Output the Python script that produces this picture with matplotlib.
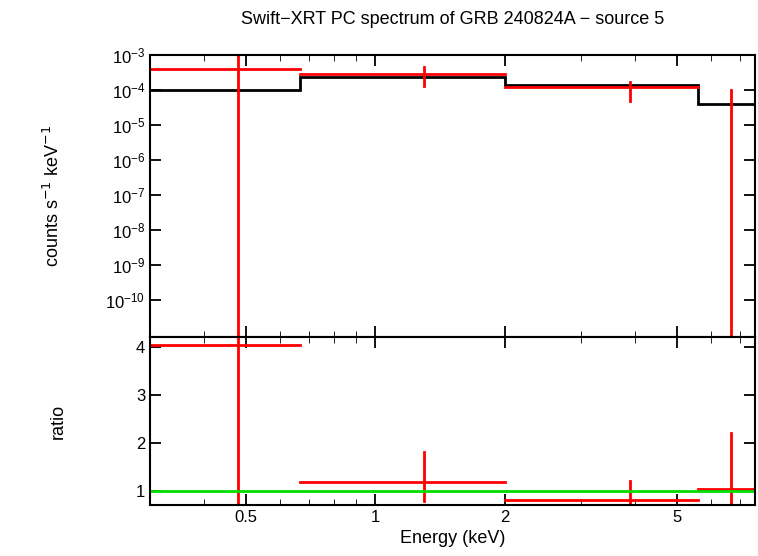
import matplotlib
matplotlib.use("Agg")
import matplotlib.pyplot as plt
import numpy as np
plt.rcParams['font.family'] = 'Liberation Sans'

bin_lo = [0.30, 0.67, 2.0, 5.6]
bin_hi = [0.67, 2.0, 5.6, 8.2]
x_c = [0.48, 1.3, 3.9, 6.7]
rate = [4.0e-4, 2.8e-4, 1.2e-4, 1e-12]
rate_lo = [1e-12, 1.3e-4, 5.0e-5, 1e-12]
rate_hi = [1e-3, 4.5e-4, 1.7e-4, 1.0e-4]
model = [1.0e-4, 2.3e-4, 1.4e-4, 4.0e-5]
ratio = [4.05, 1.18, 0.82, 1.05]
ratio_lo = [0.5, 0.80, 0.70, 0.70]
ratio_hi = [4.5, 1.82, 1.22, 2.22]

fig = plt.figure(figsize=(7.58, 5.56), dpi=100)
ax1 = fig.add_axes([150/758, 1-337/556, 605/758, 282/556])
ax2 = fig.add_axes([150/758, 1-505/556, 605/758, 168/556], sharex=ax1)

for i in range(4):
    ax1.plot([bin_lo[i], bin_hi[i]], [rate[i]]*2, color='red', lw=2)
    ax1.plot([x_c[i]]*2, [rate_lo[i], rate_hi[i]], color='red', lw=2)
    ax2.plot([bin_lo[i], bin_hi[i]], [ratio[i]]*2, color='red', lw=2)
    ax2.plot([x_c[i]]*2, [ratio_lo[i], ratio_hi[i]], color='red', lw=2)
edges = bin_lo + [bin_hi[-1]]
ax1.stairs(model, edges, color='black', lw=2, baseline=None)
ax2.axhline(1, color='#00dd00', lw=2)

ax1.set_xscale('log')
ax1.set_xlim(0.30, 7.6)
ax1.set_yscale('log')
ax1.set_ylim(10**-11.06, 1.0e-3)
ax1.set_yticks([10.0**k for k in range(-10, -2)])
ax1.set_ylabel('counts s$^{-1}$ keV$^{-1}$', fontsize=13, labelpad=30)
ax1.set_title('Swift\u2212XRT PC spectrum of GRB 240824A \u2212 source 5', fontsize=13, pad=22)
ax2.set_ylim(0.71, 4.21)
ax2.set_yticks([1, 2, 3, 4])
ax2.set_ylabel('ratio', fontsize=13, labelpad=50)
ax2.set_xlabel('Energy (keV)', fontsize=13)
ax2.set_xticks([0.5, 1, 2, 5])
ax2.set_xticklabels(['0.5', '1', '2', '5'])
plt.setp(ax1.get_xticklabels(), visible=False)
for ax in (ax1, ax2):
    ax.tick_params(which='both', direction='in', top=True, right=True, labelsize=12)
    ax.tick_params(which='major', length=8, width=1.3)
    ax.tick_params(which='minor', length=4)
    for s in ax.spines.values():
        s.set_linewidth(1.5)
ax1.yaxis.set_minor_locator(matplotlib.ticker.NullLocator())
fig.savefig('out.png', dpi=100)
